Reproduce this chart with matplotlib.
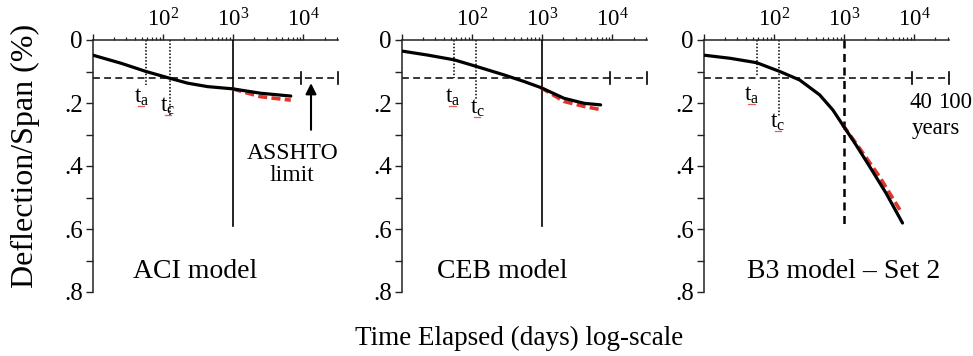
import numpy as np
import matplotlib
matplotlib.use("Agg")
import matplotlib.pyplot as plt

plt.rcParams['font.family'] = ['Liberation Serif', 'DejaVu Serif']
plt.rcParams['mathtext.fontset'] = 'custom'
plt.rcParams['mathtext.rm'] = 'Liberation Serif'
plt.rcParams['mathtext.it'] = 'Liberation Serif:italic'

# ---------------- data ----------------
panel_titles = ["ACI model", "CEB model", "B3 model \u2013 Set 2"]

aci_days = [10, 25.5, 57.5, 123, 224, 432, 978, 2460, 6600]
aci_defl = [0.048, 0.074, 0.100, 0.121, 0.137, 0.148, 0.155, 0.169, 0.178]
aci_red_days = [978, 1500, 2460, 6600]
aci_red_defl = [0.155, 0.167, 0.180, 0.191]

ceb_days = [10, 23.6, 56, 120, 288, 556, 955, 2040, 3960, 6780]
ceb_defl = [0.035, 0.048, 0.063, 0.085, 0.111, 0.132, 0.151, 0.185, 0.201, 0.206]
ceb_red_days = [955, 2040, 3960, 6780]
ceb_red_defl = [0.151, 0.195, 0.211, 0.221]

b3_days = [10, 23.8, 57, 122, 234, 449, 693, 955, 1480, 2290, 3960, 6800]
b3_defl = [0.048, 0.058, 0.072, 0.100, 0.127, 0.174, 0.222, 0.269, 0.333, 0.400, 0.486, 0.581]
b3_red_days = [955, 1860, 3180, 6430]
b3_red_defl = [0.269, 0.359, 0.433, 0.544]

curves = [(aci_days, aci_defl), (ceb_days, ceb_defl), (b3_days, b3_defl)]
red_curves = [(aci_red_days, aci_red_defl), (ceb_red_days, ceb_red_defl),
              (b3_red_days, b3_red_defl)]

t_a = [58, 56, 57]
t_a_end = [0.143, 0.12, 0.117]
t_c = [125, 115, 119]
t_c_end = [0.238, 0.19, 0.24]
t_a_label_pos = [(49, 0.182), (53, 0.182), (48, 0.177)]
t_c_label_pos = [(118, 0.212), (119, 0.217), (115, 0.262)]

asshto_limit = 0.12
life_40yr = 9300
life_100yr = 31500
t_ref = 1000
vline_end = 0.59

x_ticks = [10, 100, 1000, 10000]
x_ticklabels = ["", r"$\mathregular{10^2}$", r"$\mathregular{10^3}$", r"$\mathregular{10^4}$"]
y_ticks = [0, 0.1, 0.2, 0.3, 0.4, 0.5, 0.6, 0.7, 0.8]
y_ticklabels = ["0", "", ".2", "", ".4", "", ".6", "", ".8"]

# ---------------- figure ----------------
W, H = 973, 356
fig = plt.figure(figsize=(W / 100, H / 100), dpi=100)
fig.patch.set_facecolor("white")

lefts_px = [92.7, 401.7, 703.5]
width_px = 245.3
top_px, bot_px = 40, 292

RED = "#e0352b"
for i, lp in enumerate(lefts_px):
    ax = fig.add_axes([lp / W, 1 - bot_px / H, width_px / W, (bot_px - top_px) / H])
    ax.set_xscale("log")
    ax.set_xlim(10, 3.1e4)
    ax.set_ylim(0.8, 0)
    for s in ["right", "bottom"]:
        ax.spines[s].set_visible(False)
    for s in ["left", "top"]:
        ax.spines[s].set_linewidth(1.1)
        ax.spines[s].set_color("#222222")
    ax.xaxis.tick_top()
    ax.set_xticks(x_ticks)
    ax.set_xticklabels(x_ticklabels)
    ax.xaxis.set_minor_locator(matplotlib.ticker.LogLocator(base=10, subs=np.arange(2, 10), numticks=20))
    ax.xaxis.set_minor_formatter(matplotlib.ticker.NullFormatter())
    ax.tick_params(axis="x", which="major", direction="out", length=4.5, width=1.0,
                   labelsize=16.5, pad=1.5, colors="#222222", labelcolor="black")
    ax.tick_params(axis="x", which="minor", direction="out", length=2.5, width=0.9,
                   colors="#222222")
    ax.set_yticks(y_ticks)
    ax.set_yticklabels(y_ticklabels)
    ax.tick_params(axis="y", which="major", direction="out", length=5, width=1.0,
                   labelsize=18, pad=2, colors="#222222", labelcolor="black")

    # ASSHTO limit dashed line and life bars
    ax.plot([10, life_100yr], [asshto_limit, asshto_limit], color="black", lw=1.1,
            linestyle=(0, (4.5, 2.8)), clip_on=False, zorder=2)
    for xb in [life_40yr, life_100yr]:
        ax.plot([xb, xb], [asshto_limit - 0.019, asshto_limit + 0.019], color="black",
                lw=1.2, clip_on=False, zorder=2)

    # reference time vertical line
    if i < 2:
        ax.plot([t_ref, t_ref], [0, vline_end], color="black", lw=1.2, zorder=3)
    else:
        ax.plot([t_ref, t_ref], [0, vline_end], color="black", lw=1.8,
                linestyle=(0, (3.2, 2.2)), zorder=3)

    # t_a, t_c dotted
    ax.plot([t_a[i], t_a[i]], [0, t_a_end[i]], color="black", lw=1.1,
            linestyle=(0, (1, 1.2)), zorder=2)
    ax.plot([t_c[i], t_c[i]], [0, t_c_end[i]], color="black", lw=1.1,
            linestyle=(0, (1, 1.2)), zorder=2)
    for (lx, ly), sub in [(t_a_label_pos[i], "a"), (t_c_label_pos[i], "c")]:
        ax.text(lx, ly, r"$\mathregular{t_%s}$" % sub, fontsize=16.5, ha="center",
                va="center", color="black")
        ax.plot([lx * 0.9, lx * 1.11], [ly + 0.027, ly + 0.027], color=RED, lw=0.9,
                alpha=0.8)

    # curves
    rx, ry = red_curves[i]
    ax.plot(rx, ry, color=RED, lw=2.6, linestyle=(0, (2.5, 1.2)), zorder=4,
            solid_capstyle="butt")
    cx, cy = curves[i]
    ax.plot(cx, cy, color="black", lw=2.3, zorder=5, solid_capstyle="round",
            solid_joinstyle="round")

    tx = [0.417, 0.411, 0.57][i]
    ax.text(tx, 0.735, panel_titles[i], transform=ax.get_yaxis_transform(),
            fontsize=20, ha="center", va="center", color="black")

    if i == 0:
        ax.text(6900, 0.395, "ASSHTO\nlimit", fontsize=17, ha="center", va="center",
                linespacing=1.05, color="black")
        ax.annotate("", xy=(12800, 0.137), xytext=(12800, 0.285),
                    arrowprops=dict(arrowstyle="-|>", lw=1.5, color="black",
                                    mutation_scale=16, shrinkA=0, shrinkB=0),
                    annotation_clip=False)
    if i == 2:
        ax.text(12450, 0.197, "40", fontsize=16.5, ha="center", va="center",
                clip_on=False)
        ax.text(38000, 0.197, "100", fontsize=16.5, ha="center", va="center",
                clip_on=False)
        ax.text(20500, 0.28, "years", fontsize=16.5, ha="center", va="center",
                clip_on=False)

fig.text(25 / W, 1 - 156 / H, "Deflection/Span (%)", rotation=90, fontsize=23,
         ha="center", va="center")
fig.text(519 / W, 1 - 338 / H, "Time Elapsed (days) log-scale", fontsize=19.5,
         ha="center", va="center")

fig.savefig("out.png", dpi=100, facecolor="white")
